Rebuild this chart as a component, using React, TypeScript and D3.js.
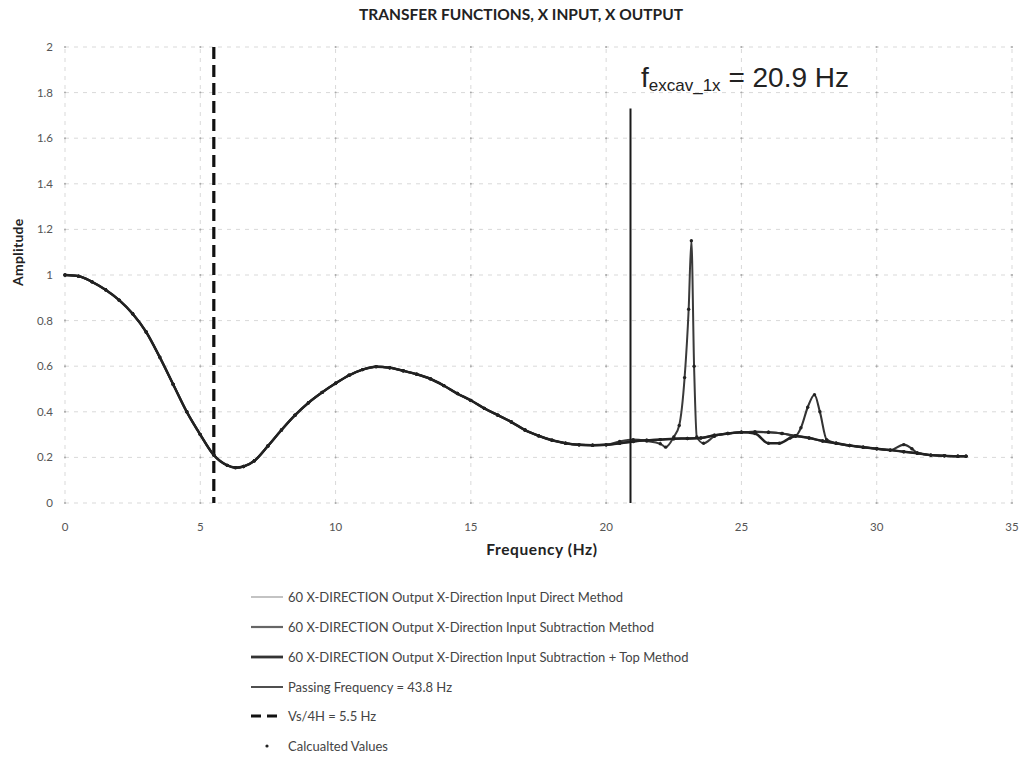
import React from "react";
import * as d3 from "d3";

// Base transfer-function curve shared by the three methods (Hz, amplitude)
const baseFreq = [0, 0.5, 1, 1.5, 2, 2.5, 3, 3.5, 4, 4.5, 5, 5.5, 6, 6.3, 6.6, 7, 7.5, 8, 8.5, 9, 9.5, 10, 10.5, 11, 11.5, 12, 12.5, 13, 13.5, 14, 14.5, 15, 15.5, 16, 16.5, 17, 17.5, 18, 18.5, 19, 19.5, 20, 20.5, 21, 21.5, 22, 22.5, 23, 23.5, 24, 24.5, 25, 25.5, 26, 26.5, 27, 27.5, 28, 28.5, 29, 29.5, 30, 30.5, 31, 31.5, 32, 32.5, 33, 33.3];
const baseAmp = [1.0, 0.995, 0.97, 0.935, 0.89, 0.83, 0.75, 0.64, 0.52, 0.4, 0.3, 0.21, 0.165, 0.155, 0.16, 0.185, 0.25, 0.32, 0.385, 0.44, 0.485, 0.525, 0.56, 0.585, 0.598, 0.593, 0.58, 0.565, 0.545, 0.515, 0.48, 0.45, 0.415, 0.385, 0.355, 0.32, 0.295, 0.275, 0.262, 0.255, 0.253, 0.255, 0.262, 0.27, 0.275, 0.278, 0.282, 0.283, 0.285, 0.297, 0.305, 0.31, 0.312, 0.31, 0.305, 0.295, 0.285, 0.272, 0.262, 0.252, 0.245, 0.238, 0.232, 0.225, 0.218, 0.21, 0.207, 0.205, 0.205];

// Direct method: sharp resonance near 23 Hz
const directFreq = [20.5, 21, 21.5, 22, 22.2, 22.5, 22.7, 22.9, 23.05, 23.15, 23.25, 23.35, 23.6, 24];
const directAmp = [0.27, 0.278, 0.272, 0.26, 0.245, 0.29, 0.34, 0.55, 0.85, 1.15, 0.6, 0.29, 0.262, 0.292];

// Subtraction method: peak near 27.7 Hz and a small bump near 31 Hz
const subFreq = [27, 27.2, 27.45, 27.7, 27.9, 28.15, 28.5];
const subAmp = [0.295, 0.33, 0.42, 0.475, 0.4, 0.278, 0.262];
const subFreq2 = [30.5, 31, 31.3, 31.5];
const subAmp2 = [0.232, 0.256, 0.238, 0.22];

// Subtraction + top method: shallow dip near 26 Hz
const topFreq = [25.5, 26, 26.4, 26.8, 27];
const topAmp = [0.305, 0.262, 0.262, 0.285, 0.293];

const passingFreq = 20.9;
const passingTop = 1.73;
const vs4hFreq = 5.5;

const xTicks = [0, 5, 10, 15, 20, 25, 30, 35];
const yTicks = [0, 0.2, 0.4, 0.6, 0.8, 1, 1.2, 1.4, 1.6, 1.8, 2];

const legendLabels = [
  "60 X-DIRECTION Output X-Direction Input Direct Method",
  "60 X-DIRECTION Output X-Direction Input Subtraction Method",
  "60 X-DIRECTION Output X-Direction Input Subtraction + Top Method",
  "Passing Frequency = 43.8 Hz",
  "Vs/4H = 5.5 Hz",
  "Calcualted Values",
];

type Pt = [number, number];

function zip(f: number[], a: number[]): Pt[] {
  return f.map((v, i) => [v, a[i]] as Pt);
}

// Replace the stretch of the base curve covered by each segment
function withSegments(segs: Pt[][]): Pt[] {
  let pts = zip(baseFreq, baseAmp);
  segs.forEach((s) => {
    const lo = s[0][0];
    const hi = s[s.length - 1][0];
    pts = pts.filter((p) => p[0] < lo || p[0] > hi).concat(s);
  });
  return pts.sort((a, b) => a[0] - b[0]);
}

const W = 1033;
const H = 757;
const FONT = "Lato, 'Open Sans', sans-serif";

export default function App() {
  const x = d3.scaleLinear().domain([0, 35]).range([65, 1012]);
  const y = d3.scaleLinear().domain([0, 2]).range([503, 47]);

  const direct = withSegments([zip(directFreq, directAmp)]);
  const sub = withSegments([zip(subFreq, subAmp), zip(subFreq2, subAmp2)]);
  const top = withSegments([zip(topFreq, topAmp)]);

  const line = d3
    .line<Pt>()
    .x((d) => x(d[0]))
    .y((d) => y(d[1]))
    .curve(d3.curveMonotoneX);

  const series = [
    { pts: direct, color: "#3a3a3a", width: 2 },
    { pts: sub, color: "#333", width: 2.1 },
    { pts: top, color: "#222", width: 2.5 },
  ];

  const legendStyles = [
    { color: "#9a9a9a", width: 1.2, dash: "" },
    { color: "#666", width: 2.2, dash: "" },
    { color: "#333", width: 2.8, dash: "" },
    { color: "#222", width: 1.6, dash: "" },
    { color: "#111", width: 3, dash: "10,6" },
  ];
  const legendY = [597, 627, 657, 687, 716, 746];

  return (
    <svg
      width={W}
      height={H}
      style={{ position: "absolute", left: 0, top: 0, background: "#fff" }}
    >
      <rect width={W} height={H} fill="#fff" />
      <text
        x={521}
        y={20}
        textAnchor="middle"
        fontFamily={FONT}
        fontWeight={700}
        fontSize={15.5}
        fill="#222"
      >
        TRANSFER FUNCTIONS, X INPUT, X OUTPUT
      </text>

      {/* grid */}
      <g stroke="#d9d9d9" strokeWidth={1} strokeDasharray="4,5">
        {yTicks.map((t) => (
          <line key={"gy" + t} x1={x(0)} x2={x(35)} y1={y(t)} y2={y(t)} />
        ))}
        {xTicks.map((t) => (
          <line key={"gx" + t} x1={x(t)} x2={x(t)} y1={y(0)} y2={y(2)} />
        ))}
      </g>
      <g fill="#aaa">
        {yTicks.map((t) =>
          xTicks.map((u) => (
            <circle key={"d" + t + "-" + u} cx={x(u)} cy={y(t)} r={1} />
          ))
        )}
      </g>

      {/* tick labels */}
      <g fontFamily={FONT} fontSize={11.5} fill="#555">
        {yTicks.map((t) => (
          <text key={"yl" + t} x={53} y={y(t) + 4} textAnchor="end">
            {d3.format("~g")(t)}
          </text>
        ))}
        {xTicks.map((t) => (
          <text key={"xl" + t} x={x(t)} y={531} textAnchor="middle">
            {t}
          </text>
        ))}
      </g>
      <text
        x={542}
        y={555}
        textAnchor="middle"
        fontFamily={FONT}
        fontWeight={700}
        fontSize={15.5}
        letterSpacing={0.6}
        fill="#222"
      >
        Frequency (Hz)
      </text>
      <text
        transform={`translate(23,${y(1.1)}) rotate(-90)`}
        textAnchor="middle"
        fontFamily={FONT}
        fontWeight={700}
        fontSize={14}
        letterSpacing={0.3}
        fill="#222"
      >
        Amplitude
      </text>

      {/* Vs/4H marker */}
      <line
        x1={x(vs4hFreq)}
        x2={x(vs4hFreq)}
        y1={y(2)}
        y2={y(0)}
        stroke="#111"
        strokeWidth={3.2}
        strokeDasharray="12,6"
      />

      {/* series */}
      {series.map((s, i) => (
        <path
          key={"s" + i}
          d={line(s.pts) || ""}
          fill="none"
          stroke={s.color}
          strokeWidth={s.width}
          strokeLinejoin="round"
        />
      ))}
      <g fill="#222">
        {series.map((s, i) =>
          s.pts.map((p, j) => (
            <circle key={"c" + i + "-" + j} cx={x(p[0])} cy={y(p[1])} r={1.7} />
          ))
        )}
      </g>

      {/* passing frequency */}
      <line
        x1={x(passingFreq)}
        x2={x(passingFreq)}
        y1={y(passingTop)}
        y2={y(0)}
        stroke="#1a1a1a"
        strokeWidth={2}
      />
      <text
        x={641}
        y={87}
        fontFamily="'Liberation Sans', Arial, sans-serif"
        fontSize={28}
        fill="#222"
      >
        f
        <tspan fontSize={17} dy={4}>
          excav_1x
        </tspan>
        <tspan fontSize={28} dy={-4}>
          {" "}= {passingFreq} Hz
        </tspan>
      </text>

      {/* legend */}
      <g fontFamily={FONT} fontSize={13} fill="#444">
        {legendLabels.map((lab, i) => (
          <g key={"lg" + i}>
            {i < 5 ? (
              <line
                x1={251}
                x2={283}
                y1={legendY[i]}
                y2={legendY[i]}
                stroke={legendStyles[i].color}
                strokeWidth={legendStyles[i].width}
                strokeDasharray={legendStyles[i].dash}
              />
            ) : (
              <circle cx={267} cy={legendY[i]} r={1.6} fill="#222" />
            )}
            <text x={288} y={legendY[i] + 4.5}>
              {lab}
            </text>
          </g>
        ))}
      </g>
    </svg>
  );
}
